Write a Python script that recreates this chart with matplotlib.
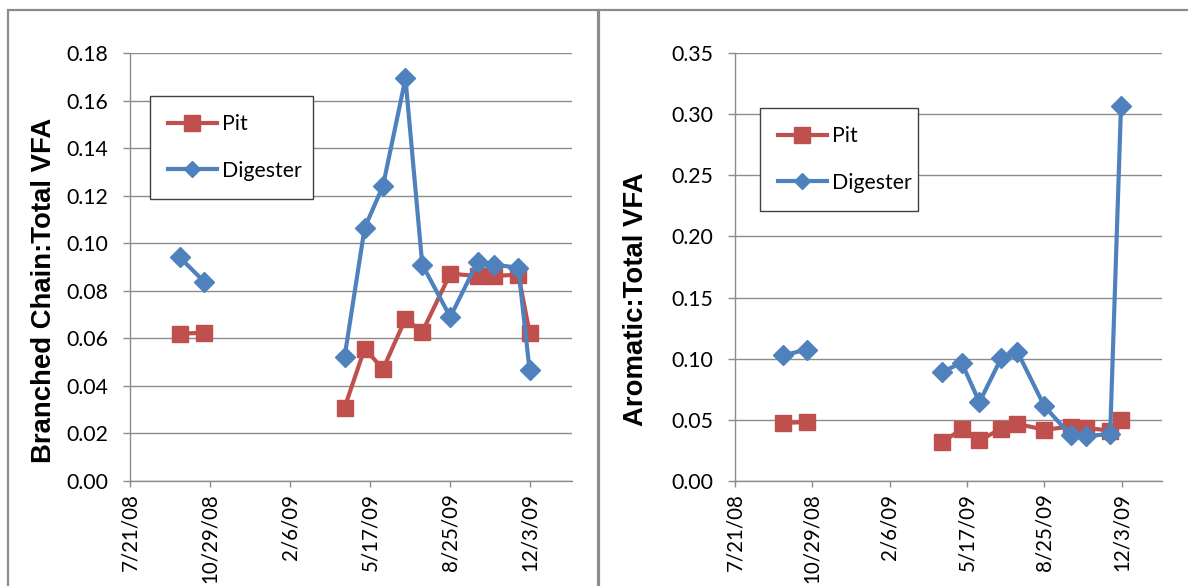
import numpy as np
import matplotlib
matplotlib.use('Agg')
import matplotlib.pyplot as plt
import matplotlib.dates as mdates
from matplotlib.patches import Rectangle

plt.rcParams['font.family'] = ['Lato', 'DejaVu Sans']

# sampling dates (same for both series)
dates = ['2008-09-21', '2008-10-22', '2009-04-15', '2009-05-10', '2009-06-02',
         '2009-06-30', '2009-07-21', '2009-08-25', '2009-09-28', '2009-10-18',
         '2009-11-18', '2009-12-02']

# Branched Chain:Total VFA
pit_bc = [0.0619, 0.0624, 0.0309, 0.0557, 0.0471, 0.0682, 0.0627, 0.0872,
          0.0862, 0.0862, 0.0868, 0.0624]
dig_bc = [0.0941, 0.0837, 0.0522, 0.1064, 0.1242, 0.1693, 0.0910, 0.0690,
          0.0921, 0.0910, 0.0897, 0.0466]

# Aromatic:Total VFA
pit_ar = [0.0474, 0.0483, 0.0318, 0.0423, 0.0332, 0.0427, 0.0466, 0.0420,
          0.0444, 0.0434, 0.0412, 0.0497]
dig_ar = [0.1028, 0.1074, 0.0891, 0.0968, 0.0644, 0.1003, 0.1058, 0.0611,
          0.0373, 0.0368, 0.0384, 0.3066]

series_names = ['Pit', 'Digester']
colors = ['#C0504D', '#4F81BD']
markers = ['s', 'D']
msizes = [11.5, 10.5]
leg_scale = [0.95, 0.8]

x = np.array(dates, dtype='datetime64[D]')
x_start = np.datetime64('2008-07-21')
x_end = x_start + np.timedelta64(552, 'D')
xticks = np.arange(x_start, x_end, np.timedelta64(100, 'D'))

# gaps in sampling -> break the line
breaks = np.where(np.diff(x) > np.timedelta64(100, 'D'))[0] + 1
segments = np.split(np.arange(len(x)), breaks)

grid_col = '#8C8C8C'


def date_fmt(v, pos):
    d = mdates.num2date(v)
    return f'{d.month}/{d.day}/{d.year % 100:02d}'


def draw_panel(ax, pit, dig, ylabel, ymax, ystep, label_xy, leg_box):
    handles = []
    for vals, name, c, m, ms in zip([pit, dig], series_names, colors, markers, msizes):
        vals = np.array(vals)
        h = None
        for seg in segments:
            l, = ax.plot(x[seg], vals[seg], color=c, lw=3, marker=m, ms=ms,
                         mec=c, mfc=c, label=name, zorder=3)
            if h is None:
                h = l
        handles.append(h)

    ax.set_xlim(x_start, x_end)
    ax.set_ylim(0, ymax)
    ax.set_yticks(np.arange(0, ymax + ystep / 2, ystep))
    ax.yaxis.set_major_formatter(plt.FuncFormatter(lambda v, p: f'{v:.2f}'))
    ax.set_xticks(xticks)
    ax.xaxis.set_major_formatter(plt.FuncFormatter(date_fmt))
    for lab in ax.get_xticklabels():
        lab.set_rotation(90)

    ax.grid(axis='y', color=grid_col, lw=1)
    ax.set_axisbelow(True)
    for s in ['top', 'right']:
        ax.spines[s].set_visible(False)
    for s in ['left', 'bottom']:
        ax.spines[s].set_color(grid_col)
        ax.spines[s].set_linewidth(1)
    ax.tick_params(axis='y', length=5, width=1, color=grid_col, pad=10.5,
                   labelsize=15.3, labelcolor='#000000')
    ax.tick_params(axis='x', length=4.5, width=1, color=grid_col, pad=4.5,
                   labelsize=14.8, labelcolor='#000000')

    ax.set_ylabel(ylabel, family='Liberation Sans', fontweight='bold',
                  fontsize=19.8)
    ax.yaxis.set_label_coords(*label_xy)

    leg = ax.legend(handles, series_names, loc='upper left',
                    bbox_to_anchor=leg_box, mode='expand', fontsize=15.3,
                    numpoints=1, handlelength=2.3, handletextpad=0.25,
                    labelspacing=1.25, borderpad=0.85, borderaxespad=0,
                    fancybox=False, framealpha=1)
    leg.get_frame().set_edgecolor('#404040')
    leg.get_frame().set_linewidth(1)
    for lh, sc in zip(leg.legend_handles, leg_scale):
        lh.set_markersize(lh.get_markersize() * sc)


fig = plt.figure(figsize=(11.88, 5.86), dpi=100)
W, H = 1188, 586

ax1 = fig.add_axes([130 / W, 1 - 481 / H, 442 / W, 428 / H])
ax2 = fig.add_axes([735 / W, 1 - 481 / H, 427 / W, 428 / H])

draw_panel(ax1, pit_bc, dig_bc, 'Branched Chain:Total VFA', 0.18, 0.02,
           (-0.165, 0.446), (0.045, 0.8995, 0.369, 0.0))
draw_panel(ax2, pit_ar, dig_ar, 'Aromatic:Total VFA', 0.35, 0.05,
           (-0.201, 0.425), (0.0585, 0.8715, 0.37, 0.0))

# chart object borders
fig.patches.append(Rectangle((8 / W, -0.05), 590 / W, 1.05 - 10 / H,
                             transform=fig.transFigure, fill=False,
                             ec='#8C8C8C', lw=1.6))
fig.patches.append(Rectangle((599 / W, -0.05), 0.6, 1.05 - 10 / H,
                             transform=fig.transFigure, fill=False,
                             ec='#8C8C8C', lw=1.6))

fig.savefig('out.png', dpi=100)
